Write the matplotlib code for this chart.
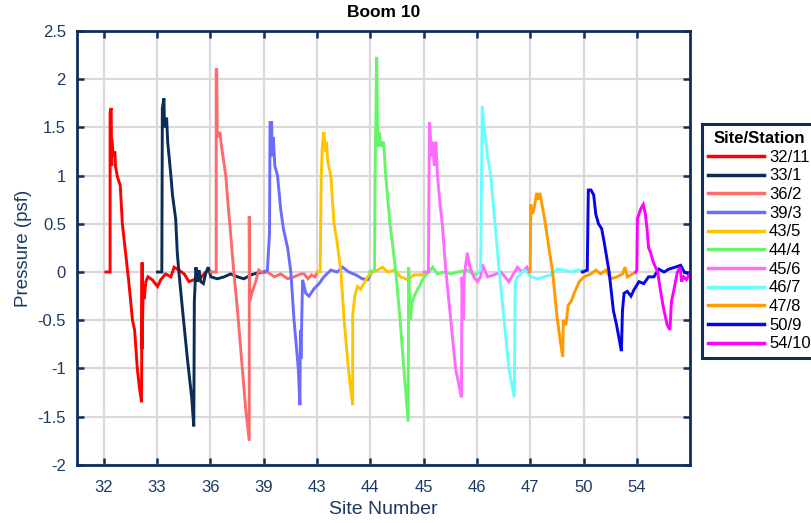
import matplotlib
matplotlib.use("Agg")
import matplotlib.pyplot as plt
from matplotlib.lines import Line2D
from matplotlib.ticker import FuncFormatter

plt.rcParams['font.family'] = ['Liberation Sans', 'DejaVu Sans']

# site labels along the x axis, one per slot
sites = ['32', '33', '36', '39', '43', '44', '45', '46', '47', '50', '54']
stations = ['32/11', '33/1', '36/2', '39/3', '43/5', '44/4', '45/6', '46/7', '47/8', '50/9', '54/10']
colors = ['#FF0000', '#0B2C57', '#FF6A6A', '#6B6BFF', '#FFC400', '#66F566',
          '#FF6AFF', '#66FFFF', '#FF9A00', '#0505E8', '#FF00FF']

# pressure traces (x in site slots, y in psf)
x_32 = [1.04, 1.12, 1.12, 1.14, 1.15, 1.15, 1.18, 1.21, 1.22, 1.26, 1.31, 1.35, 1.41, 1.47,
        1.54, 1.58, 1.63, 1.67, 1.71, 1.72, 1.72, 1.74, 1.76, 1.79, 1.83, 1.91, 2.01, 2.07,
        2.16, 2.26, 2.32, 2.41, 2.51, 2.60, 2.69, 2.82, 2.95, 3.01]
y_32 = [0.0, 0.0, 1.65, 1.70, 1.10, 1.38, 1.20, 1.25, 1.10, 0.98, 0.90, 0.50, 0.20, -0.10,
        -0.50, -0.60, -1.00, -1.20, -1.35, 0.10, -0.80, -0.20, -0.28, -0.10, -0.05, -0.08, -0.15, -0.08,
        -0.02, -0.05, 0.05, 0.02, -0.02, -0.10, -0.08, -0.06, 0.02, 0.0]

x_33 = [2.01, 2.09, 2.10, 2.13, 2.14, 2.18, 2.20, 2.26, 2.29, 2.35, 2.38, 2.41, 2.48, 2.57,
        2.65, 2.69, 2.70, 2.73, 2.76, 2.79, 2.82, 2.87, 2.91, 2.96, 3.01, 3.13, 3.26, 3.38,
        3.51, 3.63, 3.76, 3.88, 4.01]
y_33 = [0.0, 0.0, 1.70, 1.80, 1.50, 1.60, 1.35, 1.00, 0.80, 0.55, 0.20, 0.0, -0.40, -0.90,
        -1.30, -1.60, -0.30, 0.05, -0.10, 0.02, -0.10, -0.12, -0.02, 0.05, -0.05, -0.07, -0.05, -0.02,
        -0.05, -0.07, -0.03, -0.01, 0.0]

x_36 = [3.01, 3.11, 3.11, 3.12, 3.13, 3.18, 3.21, 3.25, 3.29, 3.34, 3.38, 3.44, 3.51, 3.60,
        3.66, 3.73, 3.73, 3.74, 3.79, 3.85, 3.91, 3.98, 4.07, 4.20, 4.32, 4.45, 4.57, 4.70,
        4.76, 4.83, 4.90, 4.96, 5.01]
y_36 = [0.0, 0.0, 2.10, 2.10, 1.40, 1.45, 1.30, 1.15, 1.00, 0.65, 0.40, 0.0, -0.40, -1.00,
        -1.40, -1.75, 0.58, -0.30, -0.20, -0.10, 0.02, -0.01, 0.0, -0.05, -0.02, -0.07, -0.05, -0.02,
        -0.02, -0.07, -0.03, -0.05, 0.0]

x_39 = [4.01, 4.07, 4.11, 4.12, 4.15, 4.16, 4.18, 4.21, 4.26, 4.32, 4.37, 4.45, 4.51, 4.57,
        4.65, 4.68, 4.69, 4.70, 4.73, 4.79, 4.85, 4.95, 5.04, 5.13, 5.26, 5.38, 5.48, 5.60,
        5.73, 5.85, 5.95, 6.01]
y_39 = [0.0, 0.02, 0.40, 1.55, 1.55, 1.20, 1.40, 1.10, 1.00, 0.65, 0.45, 0.25, 0.0, -0.50,
        -1.00, -1.38, -0.60, -0.90, -0.08, -0.22, -0.25, -0.17, -0.12, -0.05, 0.02, 0.0, 0.05, 0.0,
        -0.03, -0.07, -0.08, -0.02]

x_43 = [5.01, 5.06, 5.08, 5.10, 5.13, 5.16, 5.18, 5.20, 5.26, 5.32, 5.38, 5.45, 5.51, 5.59,
        5.63, 5.67, 5.67, 5.71, 5.76, 5.82, 5.88, 5.95, 6.04, 6.14, 6.23, 6.33, 6.45, 6.57,
        6.70, 6.82, 6.95, 7.01]
y_43 = [0.0, 0.0, 1.00, 1.30, 1.45, 1.25, 1.35, 1.15, 1.00, 0.50, 0.30, 0.0, -0.50, -1.00,
        -1.20, -1.38, -0.45, -0.25, -0.15, -0.18, -0.12, -0.05, 0.0, 0.02, 0.05, 0.0, 0.02, -0.05,
        -0.08, -0.03, -0.03, -0.02]

x_44 = [5.98, 6.08, 6.09, 6.12, 6.14, 6.17, 6.20, 6.25, 6.29, 6.37, 6.48, 6.56, 6.63, 6.71,
        6.72, 6.75, 6.79, 6.85, 6.92, 7.01, 7.10, 7.17, 7.26, 7.38, 7.51, 7.64, 7.82, 7.95, 8.04]
y_44 = [0.0, 0.02, 1.00, 2.23, 1.30, 1.45, 1.30, 1.35, 1.00, 0.50, 0.0, -0.50, -1.00, -1.55,
        0.05, -0.50, -0.30, -0.22, -0.15, -0.05, 0.0, 0.05, -0.02, 0.0, -0.02, 0.0, 0.02, -0.03, 0.0]

x_45 = [7.01, 7.09, 7.11, 7.15, 7.17, 7.20, 7.23, 7.26, 7.31, 7.35, 7.42, 7.51, 7.60, 7.71,
        7.72, 7.75, 7.76, 7.82, 7.87, 7.94, 8.01, 8.07, 8.10, 8.20, 8.32, 8.45, 8.60, 8.76,
        8.85, 8.94, 8.98]
y_45 = [0.0, 0.0, 1.55, 1.20, 1.35, 1.10, 1.35, 1.00, 0.70, 0.50, 0.0, -0.50, -1.00, -1.30,
        -0.05, -0.50, -0.05, 0.20, 0.05, -0.05, -0.10, -0.05, 0.08, -0.05, -0.03, 0.0, -0.10, 0.05,
        0.0, 0.05, 0.0]

x_46 = [8.01, 8.07, 8.10, 8.13, 8.17, 8.20, 8.26, 8.34, 8.42, 8.51, 8.60, 8.70, 8.72, 8.76,
        8.81, 8.88, 8.94, 9.01, 9.14, 9.26, 9.39, 9.51, 9.64, 9.76, 9.89, 9.98]
y_46 = [0.0, 0.02, 1.72, 1.50, 1.35, 1.20, 1.00, 0.50, 0.0, -0.50, -1.00, -1.30, -0.10, -0.05,
        -0.03, 0.02, 0.0, -0.05, -0.07, -0.05, -0.03, 0.03, 0.02, 0.0, 0.02, 0.02]

x_47 = [8.98, 9.00, 9.01, 9.04, 9.07, 9.12, 9.15, 9.18, 9.22, 9.27, 9.31, 9.42, 9.50, 9.56,
        9.61, 9.62, 9.67, 9.71, 9.77, 9.84, 9.92, 10.01, 10.14, 10.23, 10.32, 10.42, 10.51, 10.63,
        10.73, 10.78, 10.82, 10.92, 10.98]
y_47 = [0.0, 0.02, 0.70, 0.60, 0.65, 0.82, 0.75, 0.82, 0.70, 0.55, 0.40, 0.0, -0.45, -0.70,
        -0.88, -0.50, -0.55, -0.35, -0.30, -0.20, -0.10, -0.05, -0.02, 0.02, -0.02, 0.02, -0.07, -0.05,
        -0.02, 0.05, -0.05, -0.02, 0.0]

x_50 = [9.98, 10.07, 10.09, 10.14, 10.19, 10.23, 10.28, 10.34, 10.39, 10.48, 10.56, 10.62, 10.67, 10.71,
        10.73, 10.76, 10.82, 10.89, 10.95, 11.04, 11.13, 11.22, 11.32, 11.41, 11.51, 11.60, 11.72, 11.82,
        11.89, 11.97]
y_50 = [0.0, 0.02, 0.85, 0.85, 0.80, 0.60, 0.50, 0.45, 0.30, 0.0, -0.40, -0.55, -0.70, -0.82,
        -0.40, -0.22, -0.20, -0.25, -0.18, -0.10, -0.12, -0.05, -0.05, 0.03, 0.0, 0.03, 0.05, 0.07,
        0.0, -0.02]

x_54 = [10.98, 11.00, 11.01, 11.04, 11.07, 11.12, 11.16, 11.19, 11.22, 11.26, 11.31, 11.39, 11.46, 11.51,
        11.57, 11.62, 11.65, 11.69, 11.76, 11.81, 11.84, 11.88, 11.93, 12.01]
y_54 = [0.0, 0.02, 0.55, 0.60, 0.65, 0.70, 0.60, 0.45, 0.25, 0.20, 0.10, 0.0, -0.25, -0.40,
        -0.55, -0.60, -0.30, -0.20, 0.0, 0.05, -0.10, -0.05, -0.08, 0.0]

traces = [(x_32, y_32), (x_33, y_33), (x_36, y_36), (x_39, y_39), (x_43, y_43), (x_44, y_44),
          (x_45, y_45), (x_46, y_46), (x_47, y_47), (x_50, y_50), (x_54, y_54)]

navy = '#0E2F5A'
label_col = '#1C3A63'

fig = plt.figure(figsize=(8.11, 5.23), dpi=100)
ax = fig.add_axes([0.095, 0.111, 0.756, 0.830])

for (xs, ys), c, lab in zip(traces, colors, stations):
    ax.plot(xs, ys, color=c, lw=2.1, label=lab, solid_joinstyle='miter')

ax.set_xlim(0.5, 12.0)
ax.set_ylim(-2, 2.5)
ax.set_xticks(range(1, len(sites) + 1))
ax.set_xticklabels(sites)
ax.set_yticks([-2, -1.5, -1, -0.5, 0, 0.5, 1, 1.5, 2, 2.5])
ax.yaxis.set_major_formatter(FuncFormatter(lambda v, _: '%g' % v))

ax.grid(True, color='#D9D9D9', lw=1.6)
ax.set_axisbelow(True)
for s in ax.spines.values():
    s.set_color(navy)
    s.set_linewidth(2.0)
ax.tick_params(direction='in', length=5, width=1.8, color=navy, labelcolor=label_col,
               labelsize=12, top=True, right=True)
ax.tick_params(axis='x', pad=11)
ax.tick_params(axis='y', pad=8)

ax.set_xlabel('Site Number', fontsize=14, color=label_col, labelpad=4)
ax.set_ylabel('Pressure (psf)', fontsize=13.5, color=label_col, labelpad=4)
ax.set_title('Boom 10', fontsize=12.5, fontweight='bold', pad=10)

leg = fig.legend(loc='upper left', bbox_to_anchor=(0.865, 0.762), borderaxespad=0,
                 title='Site/Station', title_fontproperties={'weight': 'bold', 'size': 12},
                 fontsize=12, handlelength=3.35, handletextpad=0.3, labelspacing=0.22,
                 fancybox=False, framealpha=1, edgecolor=navy, borderpad=0.4)
leg.get_frame().set_linewidth(2.2)
for h in leg.get_lines():
    h.set_linewidth(2.5)

# rule under the legend title
fig.canvas.draw()
tb = leg.get_title().get_window_extent()
fb = leg.get_frame().get_window_extent()
ysep = (tb.y0 - 3) / fig.bbox.height
fig.add_artist(Line2D([fb.x0 / fig.bbox.width, fb.x1 / fig.bbox.width], [ysep, ysep],
                      transform=fig.transFigure, color=navy, lw=1.6))

fig.savefig('out.png', dpi=100)
